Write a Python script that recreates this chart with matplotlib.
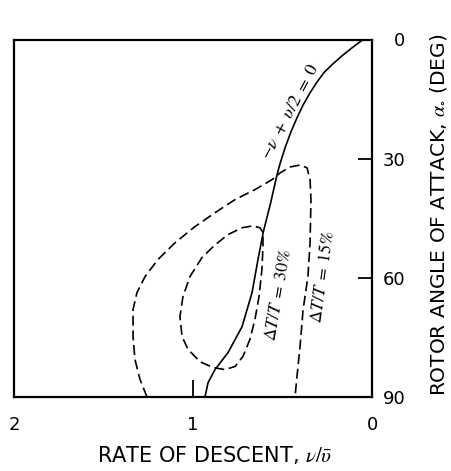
import numpy as np
import matplotlib.pyplot as plt

# solid curve  -v + v/2 = 0  (rate of descent vs. angle of attack)
solid_x = [0.050, 0.106, 0.162, 0.215, 0.268, 0.307, 0.346, 0.385, 0.419, 0.455,
           0.486, 0.512, 0.528, 0.546, 0.566, 0.607, 0.637, 0.670, 0.726, 0.804,
           0.877, 0.916, 0.933]
solid_y = [0.0, 1.9, 3.9, 6.0, 8.3, 10.7, 13.4, 16.5, 19.7, 23.5,
           27.3, 31.0, 33.6, 37.1, 41.1, 48.4, 55.4, 63.7, 72.3, 78.8,
           83.1, 86.4, 90.0]

# dT/T = 15% boundary
outer_x = [1.257, 1.296, 1.324, 1.335, 1.335, 1.313, 1.268, 1.196, 1.101, 0.989,
           0.877, 0.765, 0.654, 0.559, 0.514, 0.458, 0.402, 0.363, 0.346, 0.341,
           0.346, 0.358, 0.385, 0.402, 0.419, 0.430]
outer_y = [90.0, 85.6, 80.6, 74.8, 68.0, 63.7, 59.7, 55.4, 51.2, 47.1,
           43.6, 40.3, 37.8, 35.3, 33.6, 32.1, 31.6, 32.3, 35.3, 40.3,
           51.2, 59.7, 68.0, 77.3, 84.8, 90.0]

# dT/T = 30% boundary (closed)
inner_x = [0.609, 0.626, 0.665, 0.726, 0.804, 0.877, 0.950, 1.017, 1.056, 1.073,
           1.061, 1.028, 0.961, 0.888, 0.821, 0.765, 0.721, 0.682, 0.654, 0.631,
           0.615, 0.609, 0.609]
inner_y = [48.6, 47.4, 46.9, 47.4, 49.1, 51.7, 54.9, 59.7, 64.7, 69.8,
           74.8, 78.0, 81.1, 82.6, 83.1, 82.3, 79.8, 75.5, 70.5, 64.7,
           57.9, 52.2, 48.6]

x_ticks = [2, 1, 0]
y_ticks = [0, 30, 60, 90]

plt.rcParams['font.family'] = ['DejaVu Sans']
plt.rcParams['mathtext.fontset'] = 'stix'

fig = plt.figure(figsize=(4.52, 4.71), dpi=100)
ax = fig.add_axes([14/452, 1-397/471, 358/452, 357.5/471])

ax.plot(solid_x, solid_y, color='black', lw=1.2, solid_joinstyle='round')
ax.plot(outer_x, outer_y, color='black', lw=1.2, dashes=(6, 2.8))
ax.plot(inner_x, inner_y, color='black', lw=1.2, dashes=(6, 2.8))

ax.set_xlim(2, 0)
ax.set_ylim(90, 0)
for s in ax.spines.values():
    s.set_linewidth(1.6)

ax.set_xticks(x_ticks)
ax.set_xticklabels([str(v) for v in x_ticks])
ax.yaxis.tick_right()
ax.set_yticks(y_ticks)
ax.set_yticklabels([str(v) for v in y_ticks])
ax.tick_params(axis='x', direction='in', length=12, width=1.3, pad=14, labelsize=13)
ax.tick_params(axis='y', direction='in', length=10, width=1.3, pad=24, labelsize=13)
for lab in ax.get_yticklabels():
    lab.set_horizontalalignment('right')

ax.text(0.455, 18, r'$-\nu\ +\ \upsilon/2\ =\ 0$', rotation=62, ha='center', va='center',
        fontsize=13)
ax.text(0.525, 64.2, r'$\Delta T/T\ =\ 30\%$', rotation=80, ha='center', va='center',
        fontsize=12.5)
ax.text(0.278, 59.8, r'$\Delta T/T\ =\ 15\%$', rotation=82, ha='center', va='center',
        fontsize=12.5)

fig.text(215/452, 1-455/471, r'RATE OF DESCENT, $\nu/\bar{\upsilon}$',
         ha='center', va='center', fontsize=15)
fig.text(439/452, 1-215/471, r'ROTOR ANGLE OF ATTACK, $\alpha_{\circ}$ (DEG)',
         ha='center', va='center', rotation=90, fontsize=14.5)

fig.savefig('out.png', dpi=100)
